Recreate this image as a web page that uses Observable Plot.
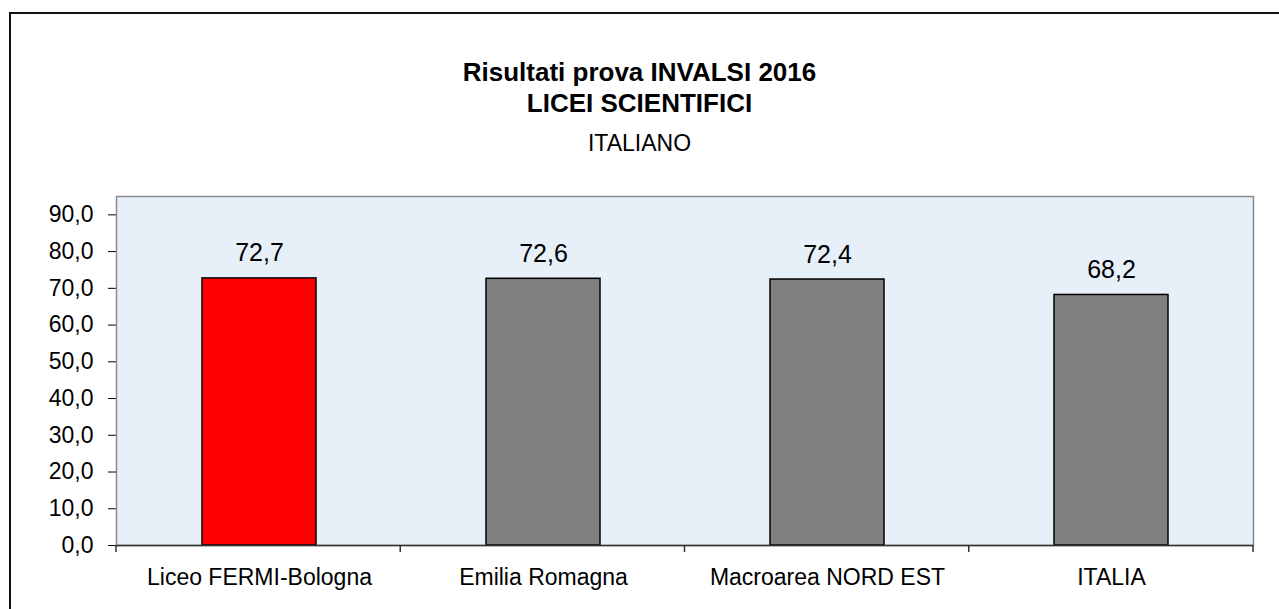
<!DOCTYPE html>
<html>
<head>
<meta charset="utf-8">
<script src="https://cdn.jsdelivr.net/npm/d3@7"></script>
<script src="https://cdn.jsdelivr.net/npm/@observablehq/plot@0.6"></script>
<style>
  html, body { margin: 0; padding: 0; background: #fff; }
  #wrap { position: relative; width: 1279px; height: 609px; overflow: hidden; font-family: "Liberation Sans", Arial, sans-serif; }
  #frame { position: absolute; left: 9px; top: 12px; width: 1400px; height: 700px; border-top: 2px solid #111; border-left: 2px solid #111; box-sizing: border-box; }
  #titles { position: absolute; left: 0; top: 0; width: 1279px; text-align: center; color: #000; z-index: 2; }
  #t1 { position: absolute; left: 0; width: 1279px; top: 57px; font-size: 26px; font-weight: bold; line-height: 30px; }
  #t2 { position: absolute; left: 0; width: 1279px; top: 88px; font-size: 26px; font-weight: bold; line-height: 30px; }
  #t3 { position: absolute; left: 0; width: 1279px; top: 130px; font-size: 23px; line-height: 26px; }
  #chart { position: absolute; left: 0; top: 0; }
</style>
</head>
<body>
<div id="wrap">
  <div id="frame"></div>
  <div id="titles">
    <div id="t1">Risultati prova INVALSI 2016</div>
    <div id="t2">LICEI SCIENTIFICI</div>
    <div id="t3">ITALIANO</div>
  </div>
  <div id="chart"></div>
</div>
<script>
const categories = ["Liceo FERMI-Bologna", "Emilia Romagna", "Macroarea NORD EST", "ITALIA"];
const values = [72.7, 72.6, 72.4, 68.2];
const yTicks = [0, 10, 20, 30, 40, 50, 60, 70, 80, 90];
const highlight = "Liceo FERMI-Bologna";

const data = categories.map((c, i) => ({cat: c, value: values[i]}));
const fmt = v => v.toFixed(1).replace(".", ",");

const catTicks = (index, scales, vals, dim) => {
  const g = document.createElementNS("http://www.w3.org/2000/svg", "g");
  const left = dim.marginLeft, right = dim.width - dim.marginRight;
  const n = categories.length;
  const step = (right - left) / n;
  const y0 = dim.height - dim.marginBottom;
  for (let i = 0; i <= n; i++) {
    const l = document.createElementNS("http://www.w3.org/2000/svg", "line");
    const x = left + i * step;
    l.setAttribute("x1", x); l.setAttribute("x2", x);
    l.setAttribute("y1", y0); l.setAttribute("y2", y0 + 7);
    l.setAttribute("stroke", "#333");
    l.setAttribute("stroke-width", "1.5");
    g.appendChild(l);
  }
  return g;
};

const chart = Plot.plot({
  width: 1279,
  height: 609,
  marginLeft: 116,
  marginRight: 26,
  marginTop: 196,
  marginBottom: 64,
  style: {fontFamily: "'Liberation Sans', Arial, sans-serif", fontSize: "23px", color: "#000", background: "transparent", overflow: "visible"},
  x: {domain: categories, paddingInner: 0.6, paddingOuter: 0.3, label: null, tickSize: 0, tickPadding: 23},
  y: {domain: [0, 95], ticks: yTicks, tickFormat: fmt, tickSize: 8, tickPadding: 15, label: null, line: true},
  marks: [
    Plot.frame({fill: "#e7eff9", stroke: "#8a8a8a", strokeWidth: 1.5}),
    Plot.barY(data, {x: "cat", y: "value", fill: d => d.cat === highlight ? "#ff0000" : "#808080", stroke: "#000", strokeWidth: 1.5}),
    Plot.ruleY([0], {stroke: "#333", strokeWidth: 1.5}),
    Plot.text(data, {x: "cat", y: "value", text: d => fmt(d.value), dy: -25, fontSize: 25, fill: "#000"}),
    catTicks
  ]
});
document.getElementById("chart").appendChild(chart);
</script>
</body>
</html>
